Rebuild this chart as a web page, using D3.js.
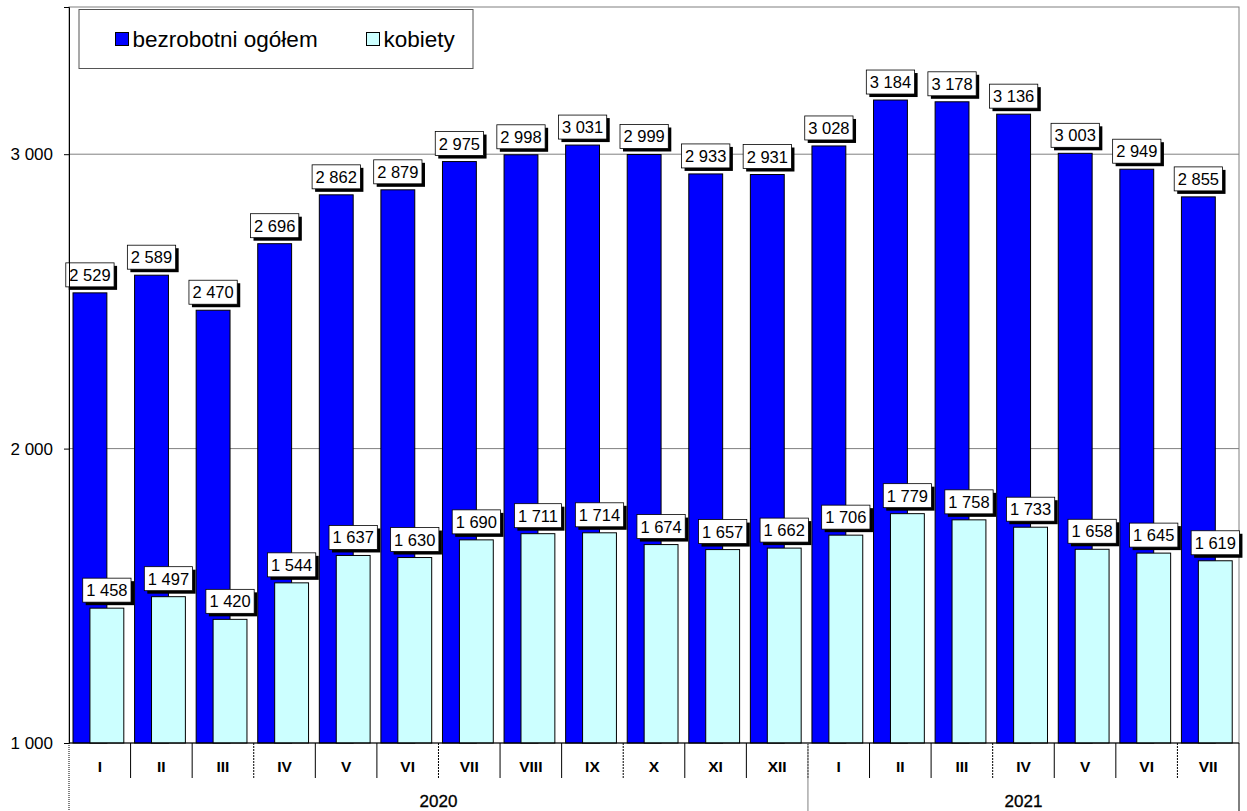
<!DOCTYPE html>
<html>
<head>
<meta charset="utf-8">
<script src="https://cdn.jsdelivr.net/npm/d3@7.9.0/dist/d3.min.js"></script>
<style>
  body { margin: 0; background: #fff; }
  text { font-family: "Liberation Sans", Arial, sans-serif; }
</style>
</head>
<body>
<svg id="chart" width="1247" height="811"></svg>
<script>
const months = ['I','II','III','IV','V','VI','VII','VIII','IX','X','XI','XII','I','II','III','IV','V','VI','VII'];
const years = [{ label: '2020', from: 0, to: 12 }, { label: '2021', from: 12, to: 19 }];
const ogolem = [2529, 2589, 2470, 2696, 2862, 2879, 2975, 2998, 3031, 2999, 2933, 2931, 3028, 3184, 3178, 3136, 3003, 2949, 2855];
const kobiety = [1458, 1497, 1420, 1544, 1637, 1630, 1690, 1711, 1714, 1674, 1657, 1662, 1706, 1779, 1758, 1733, 1658, 1645, 1619];
const yTicks = [1000, 2000, 3000];

const svg = d3.select('#chart');
const pLeft = 69, pRight = 1239, pTop = 7, pBottom = 743;

const x = d3.scaleBand().domain(d3.range(months.length)).range([pLeft, pRight]).padding(0);
const y = d3.scaleLinear().domain([1000, 3500]).range([pBottom, pTop]);
const fmt = d3.formatLocale({ decimal: ',', thousands: ' ', grouping: [3], currency: ['', ''] }).format(',d');
const bw = x.bandwidth();

// gridlines
svg.append('g').selectAll('line').data([2000, 3000]).join('line')
  .attr('x1', pLeft).attr('x2', pRight).attr('y1', d => y(d)).attr('y2', d => y(d))
  .attr('stroke', '#808080').attr('stroke-width', 1);

// plot frame
svg.append('rect').attr('x', pLeft).attr('y', pTop).attr('width', pRight - pLeft).attr('height', pBottom - pTop)
  .attr('fill', 'none').attr('stroke', '#808080');

// bars
const gb = svg.append('g');
gb.selectAll('rect.og').data(ogolem).join('rect').attr('class', 'og')
  .attr('x', (d, i) => x(i) + bw * 0.065).attr('width', bw * 0.55)
  .attr('y', d => y(d)).attr('height', d => y(1000) - y(d))
  .attr('fill', '#0000ff').attr('stroke', '#000').attr('stroke-width', 1);
gb.selectAll('rect.kob').data(kobiety).join('rect').attr('class', 'kob')
  .attr('x', (d, i) => x(i) + bw * 0.34).attr('width', bw * 0.55)
  .attr('y', d => y(d)).attr('height', d => y(1000) - y(d))
  .attr('fill', '#ccffff').attr('stroke', '#000').attr('stroke-width', 1);

// value labels with shadow boxes
function labels(data, off) {
  const g = svg.append('g');
  data.forEach((d, i) => {
    const cx = x(i) + bw * off + bw * 0.275;
    const lg = g.append('g');
    const t = lg.append('text').attr('x', cx).attr('y', y(d) - 12)
      .attr('text-anchor', 'middle').attr('font-size', 16.5).attr('fill', '#000').text(fmt(d));
    const w = t.node().getComputedTextLength() + 7;
    const bx = cx - w / 2, by = y(d) - 30, bh = 24;
    lg.insert('rect', 'text').attr('x', bx + 3).attr('y', by + 3).attr('width', w).attr('height', bh).attr('fill', '#000');
    lg.insert('rect', 'text').attr('x', bx).attr('y', by).attr('width', w).attr('height', bh)
      .attr('fill', '#fff').attr('stroke', '#000').attr('stroke-width', 0.8);
  });
}
labels(ogolem, 0.065);
labels(kobiety, 0.34);

// y axis
const ya = svg.append('g').attr('transform', `translate(${pLeft},0)`)
  .call(d3.axisLeft(y).tickValues(yTicks).tickSize(5).tickFormat(fmt));
ya.select('.domain').attr('stroke', '#000');
ya.selectAll('.tick line').attr('stroke', '#000');
ya.selectAll('.tick text').attr('font-size', 17).attr('fill', '#000').attr('x', -16)
  .style('font-family', '"Liberation Sans", Arial, sans-serif');

// x axis: months
const gx = svg.append('g');
gx.append('line').attr('x1', pLeft).attr('x2', pRight).attr('y1', pBottom).attr('y2', pBottom).attr('stroke', '#000');
gx.selectAll('line.sep').data(d3.range(1, months.length)).join('line').attr('class', 'sep')
  .attr('x1', d => x(d)).attr('x2', d => x(d)).attr('y1', pBottom).attr('y2', pBottom + 35)
  .attr('stroke', '#000').attr('stroke-dasharray', d => d % 3 ? null : '2,1');
gx.selectAll('text.m').data(months).join('text').attr('class', 'm')
  .attr('x', (d, i) => x(i) + bw / 2).attr('y', pBottom + 29)
  .attr('text-anchor', 'middle').attr('font-size', 15.5).attr('font-weight', 'bold').text(d => d);

// x axis: years
gx.selectAll('line.yr').data([0, 12, months.length]).join('line').attr('class', 'yr')
  .attr('x1', d => d === months.length ? pRight : x(d)).attr('x2', d => d === months.length ? pRight : x(d))
  .attr('y1', pBottom).attr('y2', 811).attr('stroke', d => d === 12 ? '#808080' : '#000')
  .attr('stroke-dasharray', d => d === 0 ? '1,1' : null);
gx.selectAll('text.yr').data(years).join('text').attr('class', 'yr')
  .attr('x', d => (x(d.from) + (d.to >= months.length ? pRight : x(d.to))) / 2).attr('y', 807)
  .attr('text-anchor', 'middle').attr('font-size', 17).attr('stroke', '#000').attr('stroke-width', 0.3)
  .text(d => d.label);

// legend
const lg = svg.append('g');
lg.append('rect').attr('x', 79).attr('y', 9.5).attr('width', 394).attr('height', 59)
  .attr('fill', '#fff').attr('stroke', '#555');
const items = [{ label: 'bezrobotni ogółem', color: '#0000ff', x: 115.5 }, { label: 'kobiety', color: '#ccffff', x: 366.5 }];
items.forEach(it => {
  lg.append('rect').attr('x', it.x).attr('y', 32.5).attr('width', 13).attr('height', 13)
    .attr('fill', it.color).attr('stroke', '#000');
  lg.append('text').attr('x', it.x + 17).attr('y', 47).attr('font-size', 22.5).text(it.label);
});
</script>
</body>
</html>
